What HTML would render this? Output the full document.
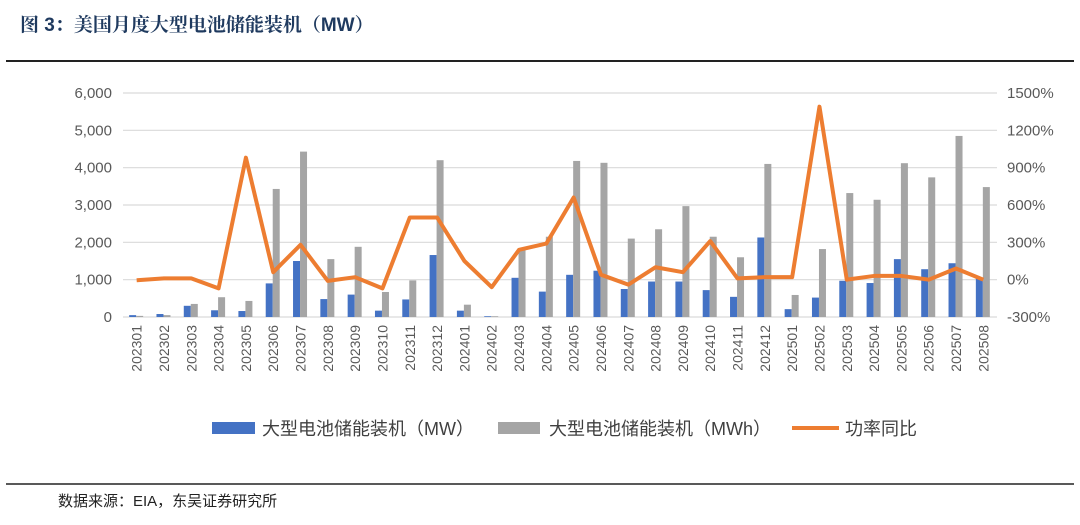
<!DOCTYPE html>
<html><head><meta charset="utf-8">
<style>
body{margin:0;background:#fff;width:1080px;height:520px;overflow:hidden;font-family:"Liberation Sans","Noto Sans CJK SC",sans-serif;}
</style></head>
<body>
<svg id="chart" width="1080" height="520" xmlns="http://www.w3.org/2000/svg">
<text x="20" y="31" font-size="19" font-weight="bold" fill="#1f3a5f" font-family="'Liberation Sans','Noto Serif CJK SC',serif">图 3：美国月度大型电池储能装机（MW）</text>
<line x1="6" y1="61" x2="1074" y2="61" stroke="#222" stroke-width="2"/>
<line x1="6" y1="484" x2="1074" y2="484" stroke="#222" stroke-width="1.5"/>
<text x="58" y="506" font-size="15" fill="#222">数据来源：EIA，东吴证券研究所</text>
<g id="grid"></g><g id="bars"></g><g id="line"></g><g id="axes"></g><g id="legend"></g>
</svg>
<script>
const categories=["202301","202302","202303","202304","202305","202306","202307","202308","202309","202310","202311","202312","202401","202402","202403","202404","202405","202406","202407","202408","202409","202410","202411","202412","202501","202502","202503","202504","202505","202506","202507","202508"];
const mwValues=[50,80,300,180,160,900,1500,480,600,170,470,1660,170,20,1050,680,1130,1240,750,950,950,720,540,2130,210,520,970,910,1550,1280,1440,1040];
const mwhValues=[30,50,350,530,430,3430,4430,1550,1880,670,980,4200,330,20,1800,2150,4180,4130,2100,2350,2970,2150,1600,4100,590,1820,3320,3140,4120,3740,4850,3480];
const yoyValues=[-5,10,10,-70,980,60,280,-10,20,-70,500,500,150,-60,240,290,660,40,-40,100,60,310,10,20,20,1390,0,30,30,0,90,0];
const leftTicks=[0,1000,2000,3000,4000,5000,6000];
const rightTicks=[-300,0,300,600,900,1200,1500];
const L=123,R=997,T=93,B=317;
const NS="http://www.w3.org/2000/svg";
const yL=v=>B-(v/6000)*(B-T);
const yR=v=>B-((v+300)/1800)*(B-T);
const bw=(R-L)/categories.length;
const xc=i=>L+bw*(i+0.5);
function mk(tag,attrs,parent){const e=document.createElementNS(NS,tag);for(const k in attrs)e.setAttribute(k,attrs[k]);document.getElementById(parent).appendChild(e);return e;}
leftTicks.forEach((t,i)=>{
 const g=mk('line',{x1:L,x2:R,y1:yL(t),y2:yL(t),stroke:'#d9d9d9','stroke-width':1.2},'grid');
 
 
 const tx=mk('text',{x:112,y:yL(t)+5,'font-size':15,fill:'#595959','text-anchor':'end'},'axes');
 tx.textContent=t.toLocaleString('en-US');
 
 
});
rightTicks.forEach(t=>{
 const tx=mk('text',{x:1007,y:yR(t)+5,'font-size':15,fill:'#595959'},'axes');
 tx.textContent=t+'%';
 
 
});
categories.forEach((c,i)=>{
 const x=xc(i);
 const b1=mk('rect',{x:x-7.5,y:yL(mwValues[i]),width:7,height:B-yL(mwValues[i]),fill:'#4472c4'},'bars');
 
 
 const b2=mk('rect',{x:x-0.5,y:yL(mwhValues[i]),width:7,height:B-yL(mwhValues[i]),fill:'#a5a5a5'},'bars');
 
 
 const tx=mk('text',{x:0,y:0,'font-size':14,fill:'#595959','text-anchor':'end',transform:`translate(${x+5},${B+8}) rotate(-90)`},'axes');
 tx.textContent=c;
 
 
});
const pl=mk('polyline',{points:yoyValues.map((v,i)=>xc(i)+','+yR(v)).join(' '),fill:'none',stroke:'#ed7d31','stroke-width':4,'stroke-linejoin':'round'},'line');


const leg=[['rect',212,255,262,'#4472c4','大型电池储能装机（MW）','legend-mw'],['rect',498,540,549,'#a5a5a5','大型电池储能装机（MWh）','legend-mwh'],['line',792,839,845,'#ed7d31','功率同比','legend-yoy']];
leg.forEach(([k,x,x2,tx0,col,label,nm])=>{
 let s;
 if(k==='rect')s=mk('rect',{x:x,y:422,width:x2-x,height:12,fill:col},'legend');
 else s=mk('line',{x1:x,x2:x2,y1:428,y2:428,stroke:col,'stroke-width':4},'legend');
 
 
 const t=mk('text',{x:tx0,y:435,'font-size':18,fill:'#404040'},'legend');
 t.textContent=label;
 
 
});
</script>
</body></html>
